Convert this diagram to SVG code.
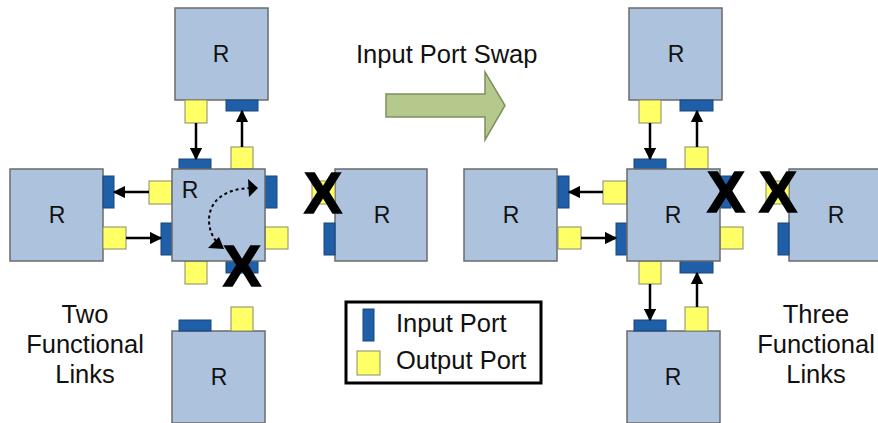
<svg xmlns="http://www.w3.org/2000/svg" width="878" height="423" viewBox="0 0 878 423">
<defs>
<style>
.box{fill:#adc2dc;stroke:#6b6b6b;stroke-width:1.5}
.in{fill:#1f5fa8;stroke:#17477e;stroke-width:1}
.out{fill:#ffff66;stroke:#8a8a6a;stroke-width:1}
.lbl{font-family:"Liberation Sans",Arial,sans-serif;font-size:23px;fill:#111;text-anchor:middle}
.txt{font-family:"Liberation Sans",Arial,sans-serif;font-size:25.5px;fill:#111}
.x{font-family:"Liberation Sans",Arial,sans-serif;font-size:57px;font-weight:bold;fill:#000;stroke:#000;stroke-width:1.5;text-anchor:middle}
.link{stroke:#000;stroke-width:2.5;fill:none;marker-end:url(#ah)}
</style>
<marker id="ah" viewBox="0 0 10 10" refX="9" refY="5" markerWidth="5" markerHeight="5" orient="auto" markerUnits="strokeWidth">
<path d="M0,0 L10,5 L0,10 z" fill="#000"/>
</marker>
</defs>
<rect width="878" height="423" fill="#fff"/>

<!-- Left diagram -->
<g id="L-top">
<rect class="box" x="175" y="8" width="93" height="92"/>
<text class="lbl" x="221" y="62">R</text>
<rect class="out" x="185" y="100" width="22" height="23"/>
<rect class="in" x="226" y="100" width="32" height="11"/>
</g>
<g id="L-left">
<rect class="box" x="10" y="169" width="93" height="92"/>
<text class="lbl" x="57" y="223">R</text>
<rect class="in" x="103" y="176" width="11" height="32"/>
<rect class="out" x="103" y="227" width="23" height="22"/>
</g>
<g id="L-right">
<rect class="box" x="335" y="169" width="92" height="92"/>
<text class="lbl" x="382" y="223">R</text>
<rect class="out" x="312" y="181" width="23" height="23"/>
<rect class="in" x="324" y="223" width="11" height="32"/>
</g>
<g id="L-bottom">
<rect class="box" x="172" y="331" width="93" height="92"/>
<text class="lbl" x="219" y="385">R</text>
<rect class="in" x="179" y="320" width="32" height="11"/>
<rect class="out" x="231" y="307" width="22" height="24"/>
</g>
<g id="L-center">
<rect class="in" x="179" y="159" width="32" height="10"/>
<rect class="out" x="231" y="147" width="22" height="22"/>
<rect class="out" x="149" y="181" width="23" height="23"/>
<rect class="in" x="161" y="223" width="11" height="32"/>
<rect class="in" x="265" y="176" width="12" height="32"/>
<rect class="out" x="265" y="227" width="23" height="22"/>
<rect class="out" x="185" y="261" width="22" height="23"/>
<rect class="in" x="226" y="261" width="32" height="12"/>
<rect class="box" x="172" y="169" width="93" height="92"/>
<text class="lbl" x="190" y="198">R</text>
</g>

<!-- Right diagram -->
<g id="R-top">
<rect class="box" x="629" y="8" width="93" height="92"/>
<text class="lbl" x="676" y="62">R</text>
<rect class="out" x="639" y="100" width="22" height="23"/>
<rect class="in" x="680" y="100" width="33" height="11"/>
</g>
<g id="R-left">
<rect class="box" x="464" y="169" width="93" height="92"/>
<text class="lbl" x="511" y="223">R</text>
<rect class="in" x="558" y="176" width="11" height="32"/>
<rect class="out" x="558" y="227" width="23" height="22"/>
</g>
<g id="R-right">
<rect class="box" x="789" y="169" width="93" height="92"/>
<text class="lbl" x="836" y="223">R</text>
<rect class="out" x="766" y="181" width="23" height="23"/>
<rect class="in" x="778" y="223" width="11" height="32"/>
</g>
<g id="R-bottom">
<rect class="box" x="627" y="331" width="93" height="92"/>
<text class="lbl" x="673" y="385">R</text>
<rect class="in" x="634" y="320" width="32" height="11"/>
<rect class="out" x="685" y="307" width="23" height="24"/>
</g>
<g id="R-center">
<rect class="in" x="634" y="159" width="32" height="10"/>
<rect class="out" x="685" y="147" width="23" height="22"/>
<rect class="out" x="603" y="181" width="24" height="23"/>
<rect class="in" x="616" y="223" width="11" height="32"/>
<rect class="in" x="720" y="176" width="11" height="32"/>
<rect class="out" x="720" y="227" width="23" height="22"/>
<rect class="out" x="639" y="261" width="22" height="23"/>
<rect class="in" x="680" y="261" width="33" height="12"/>
<rect class="box" x="627" y="169" width="93" height="92"/>
<text class="lbl" x="673" y="223">R</text>
</g>

<!-- Connectors -->
<g id="connectors">
<line class="link" x1="196" y1="123" x2="196" y2="159"/>
<line class="link" x1="242" y1="147" x2="242" y2="111"/>
<line class="link" x1="149" y1="192" x2="114" y2="192"/>
<line class="link" x1="126" y1="238" x2="161" y2="238"/>
<path d="M216,241 C204,226 203,190 250,188" fill="none" stroke="#000" stroke-width="2" stroke-dasharray="3,3"/>
<path d="M258,188 L248,179 L249,197 z" fill="#000"/>
<path d="M208,248 L219,237 L224,249 z" fill="#000"/>

<line class="link" x1="650" y1="123" x2="650" y2="159"/>
<line class="link" x1="697" y1="147" x2="697" y2="111"/>
<line class="link" x1="603" y1="192" x2="569" y2="192"/>
<line class="link" x1="581" y1="238" x2="616" y2="238"/>
<line class="link" x1="650" y1="284" x2="650" y2="320"/>
<line class="link" x1="697" y1="307" x2="697" y2="273"/>
</g>

<!-- X marks -->
<g id="marks">
<text class="x" x="323" y="213">X</text>
<text class="x" x="242" y="286">X</text>
<text class="x" x="726" y="212">X</text>
<text class="x" x="778" y="212">X</text>
</g>

<!-- Swap arrow -->
<g id="swap">
<path d="M386,94 L485,94 L485,72 L505,105.5 L485,140 L485,117 L386,117 z" fill="#b5c98d" stroke="#7f8f60" stroke-width="1.5"/>
<text class="txt" x="356" y="63">Input Port Swap</text>
</g>

<!-- Legend -->
<g id="legend">
<rect x="346" y="302" width="195" height="81" fill="#fff" stroke="#000" stroke-width="3"/>
<rect class="in" x="363" y="309" width="11" height="32"/>
<rect class="out" x="357" y="351" width="23" height="24"/>
<text class="txt" x="396" y="332">Input Port</text>
<text class="txt" x="396" y="369">Output Port</text>
</g>

<g id="captions">
<text class="txt" text-anchor="middle" x="85" y="323">Two</text>
<text class="txt" text-anchor="middle" x="85" y="353">Functional</text>
<text class="txt" text-anchor="middle" x="85" y="383">Links</text>
<text class="txt" text-anchor="middle" x="816" y="323">Three</text>
<text class="txt" text-anchor="middle" x="816" y="353">Functional</text>
<text class="txt" text-anchor="middle" x="816" y="383">Links</text>
</g>
</svg>
